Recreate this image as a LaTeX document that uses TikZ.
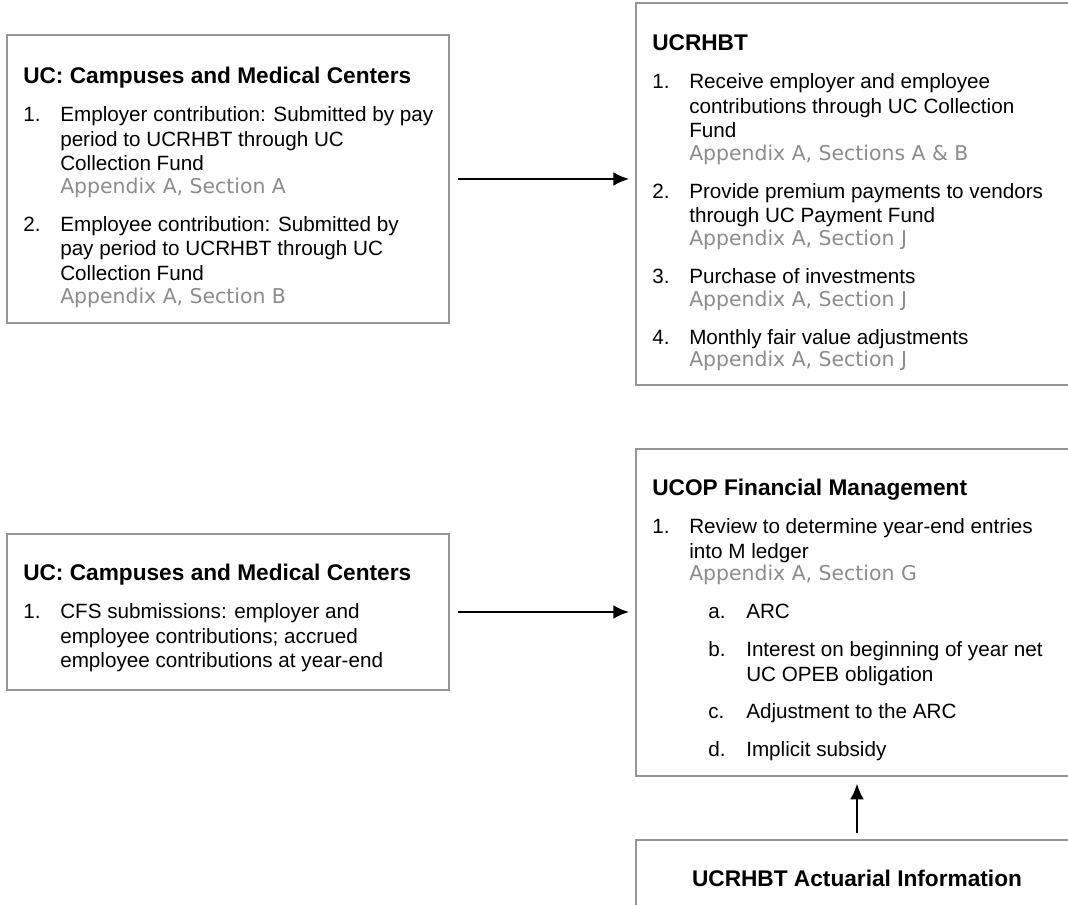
\documentclass[tikz,border=0pt]{standalone}
\usepackage{fontspec}
\setmainfont{Liberation Sans}
\newfontfamily\notefont{DejaVu Sans}
\usetikzlibrary{arrows.meta}

\definecolor{boxgray}{RGB}{150,150,150}
\definecolor{notegray}{RGB}{140,140,140}

\newcommand{\boxtitle}[1]{{\rule{0pt}{13pt}\bfseries\fontsize{17}{18.4}\selectfont #1}}
\newcommand{\numi}[1]{\makebox[27.75pt][l]{#1}}
\newcommand{\subi}[1]{\hspace*{42pt}\makebox[28.5pt][l]{#1}}
\newcommand{\note}[1]{{\notefont\fontsize{15.3}{18.4}\selectfont\color{notegray}#1}}

\begin{document}
\begin{tikzpicture}[x=0.75pt, y=-0.75pt,
    unit/.style={draw=boxgray, line width=1.1pt, fill=white, rectangle,
      minimum width=331.5pt, inner sep=0pt},
    body/.style={anchor=north west, align=left, inner sep=0pt,
      font=\fontsize{15.5}{18.4}\selectfont},
    flow/.style={-{Latex[length=12pt,width=10.5pt]}, line width=2pt}]
  \useasboundingbox (0,0) rectangle (1068,905);
  \clip (0,0) rectangle (1068,905);

  % boxes
  \node[unit, minimum height=216pt] (campA) at (228,179) {};
  \node[unit, minimum height=286.5pt] (trust) at (857,194) {};
  \node[unit, minimum height=117pt] (campB) at (228,612) {};
  \node[unit, minimum height=245.25pt] (ucop) at (857,612.5) {};
  \node[unit, minimum height=57pt, font=\bfseries\fontsize{17}{18.4}\selectfont] (actu) at (857,878) {UCRHBT Actuarial Information};

  % contents (top of each = title baseline - 13pt)
  \node[body] (campAtxt) at (23,65.7) {\boxtitle{UC: Campuses and Medical Centers}\\[10.5pt]
    \numi{1.}Employer contribution: Submitted by pay\\
    \numi{}period to UCRHBT through UC\\
    \numi{}Collection Fund\\[-1.5pt]
    \numi{}\note{Appendix A, Section A}\\[10.1pt]
    \numi{2.}Employee contribution: Submitted by\\
    \numi{}pay period to UCRHBT through UC\\
    \numi{}Collection Fund\\[-1.5pt]
    \numi{}\note{Appendix A, Section B}};

  \node[body] (trusttxt) at (652,32.7) {\boxtitle{UCRHBT}\\[10.5pt]
    \numi{1.}Receive employer and employee\\
    \numi{}contributions through UC Collection\\
    \numi{}Fund\\[-1.5pt]
    \numi{}\note{Appendix A, Sections A \& B}\\[10.1pt]
    \numi{2.}Provide premium payments to vendors\\
    \numi{}through UC Payment Fund\\[-1.5pt]
    \numi{}\note{Appendix A, Section J}\\[10.1pt]
    \numi{3.}Purchase of investments\\[-1.5pt]
    \numi{}\note{Appendix A, Section J}\\[10.1pt]
    \numi{4.}Monthly fair value adjustments\\[-1.5pt]
    \numi{}\note{Appendix A, Section J}};

  \node[body] (campBtxt) at (23,562.7) {\boxtitle{UC: Campuses and Medical Centers}\\[10.5pt]
    \numi{1.}CFS submissions: employer and\\
    \numi{}employee contributions; accrued\\
    \numi{}employee contributions at year-end};

  \node[body] (ucoptxt) at (652,477.7) {\boxtitle{UCOP Financial Management}\\[10.5pt]
    \numi{1.}Review to determine year-end entries\\
    \numi{}into M ledger\\[-1.5pt]
    \numi{}\note{Appendix A, Section G}\\[10.1pt]
    \subi{a.}ARC\\[10pt]
    \subi{b.}Interest on beginning of year net\\
    \subi{}UC OPEB obligation\\[9.4pt]
    \subi{c.}Adjustment to the ARC\\[10pt]
    \subi{d.}Implicit subsidy};

  % connectors
  \draw[flow, shorten <=6pt, shorten >=4.5pt] (campA.east) -- (campA.east -| trust.west);
  \draw[flow, shorten <=6pt, shorten >=4.5pt] (campB.east) -- (campB.east -| ucop.west);
  \draw[flow, shorten <=5pt, shorten >=5pt] (actu.north) -- (ucop.south);
\end{tikzpicture}
\end{document}
